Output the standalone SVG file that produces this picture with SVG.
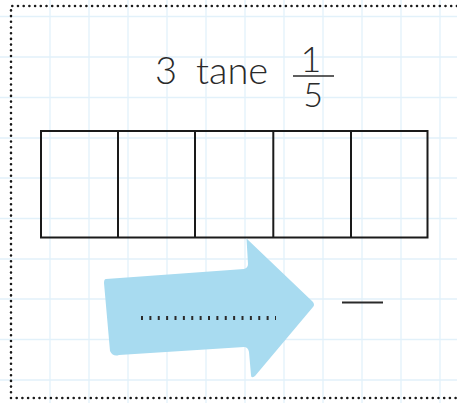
<svg xmlns="http://www.w3.org/2000/svg" width="457" height="403" viewBox="0 0 457 403">
<style>
.grid line{stroke:#e2f1fa;stroke-width:1.3}
.border{stroke:#1a1a1a;stroke-width:2.6;stroke-linecap:round;stroke-dasharray:0 5.7;fill:none}
.cell{fill:none;stroke:#1a1a1a;stroke-width:2}
.txt{font-family:Lato,"Noto Sans",sans-serif;font-weight:300;fill:#2a2a2a}
</style>
<rect width="457" height="403" fill="#ffffff"/>
<g class="grid">
<line x1="50" y1="0" x2="50" y2="403"/><line x1="89" y1="0" x2="89" y2="403"/><line x1="128" y1="0" x2="128" y2="403"/><line x1="167" y1="0" x2="167" y2="403"/><line x1="206" y1="0" x2="206" y2="403"/><line x1="245" y1="0" x2="245" y2="403"/><line x1="284" y1="0" x2="284" y2="403"/><line x1="323" y1="0" x2="323" y2="403"/><line x1="362" y1="0" x2="362" y2="403"/><line x1="401" y1="0" x2="401" y2="403"/><line x1="440" y1="0" x2="440" y2="403"/>
<line x1="0" y1="16.5" x2="457" y2="16.5"/><line x1="0" y1="57" x2="457" y2="57"/><line x1="0" y1="97.5" x2="457" y2="97.5"/><line x1="0" y1="138" x2="457" y2="138"/><line x1="0" y1="178" x2="457" y2="178"/><line x1="0" y1="218.5" x2="457" y2="218.5"/><line x1="0" y1="259" x2="457" y2="259"/><line x1="0" y1="299" x2="457" y2="299"/><line x1="0" y1="339.5" x2="457" y2="339.5"/><line x1="0" y1="380" x2="457" y2="380"/>
</g>
<path class="border" d="M11 398 L11 6 L460 6 M11 398 L460 398"/>
<g id="title">
<text class="txt" x="155" y="84" font-size="38">3</text>
<text class="txt" x="196" y="84" font-size="38">tane</text>
</g>
<g id="fraction">
<text class="txt" x="311" y="72" font-size="36" text-anchor="middle">1</text>
<line x1="293" y1="76" x2="334" y2="76" stroke="#2a2a2a" stroke-width="1.6"/>
<text class="txt" x="313" y="107" font-size="34" text-anchor="middle">5</text>
</g>
<g id="bar">
<rect class="cell" x="41" y="131" width="386.5" height="106.5"/>
<line class="cell" x1="118" y1="131" x2="118" y2="237.5"/>
<line class="cell" x1="195" y1="131" x2="195" y2="237.5"/>
<line class="cell" x1="273.3" y1="131" x2="273.3" y2="237.5"/>
<line class="cell" x1="351" y1="131" x2="351" y2="237.5"/>
</g>
<g id="arrow">
<path d="M106 279 L244 269 Q248 268 248 264 L246.5 238.5 L313 302 Q315 305 313 307 L255 376 Q251 379 251 375 L249 352 Q248 347 244 347 L119 355 Q113 357 110 351 L104 283 Q104 279 106 279 Z" fill="#a8dbf0"/>
<line x1="141" y1="318" x2="276" y2="318" stroke="#2a2a2a" stroke-width="4" stroke-dasharray="2 6.375"/>
</g>
<g id="answer">
<line x1="342" y1="302.5" x2="383" y2="302.5" stroke="#2a2a2a" stroke-width="2"/>
</g>
</svg>
